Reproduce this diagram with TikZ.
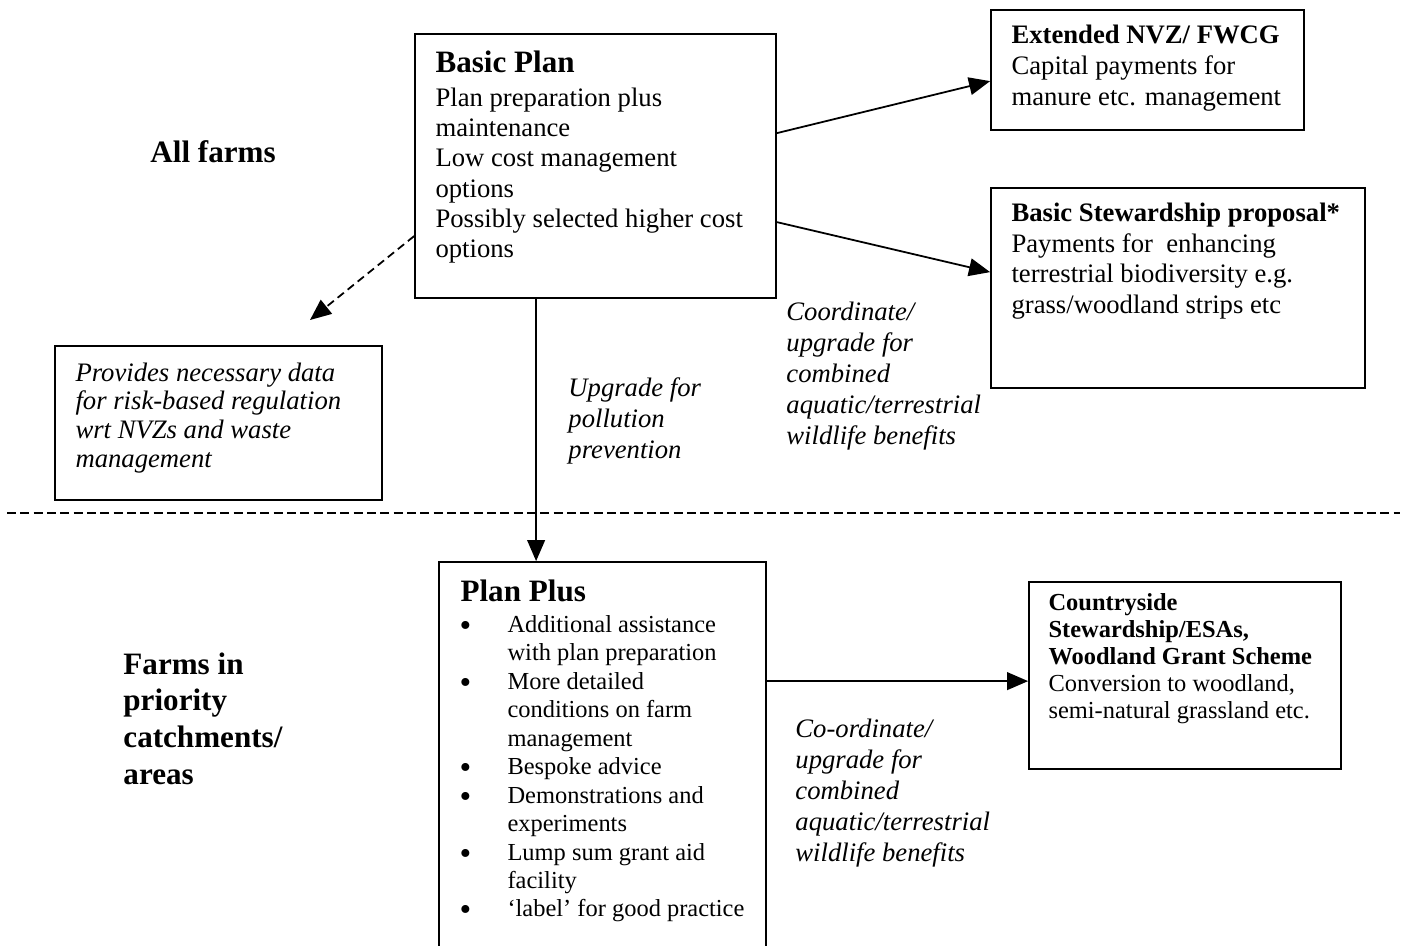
\documentclass[tikz,border=0pt]{standalone}
\usepackage{fontspec}
\setmainfont{Liberation Serif}
\usetikzlibrary{arrows.meta,calc,positioning}

\begin{document}
\begin{tikzpicture}
  [
    x=0.45pt, y=-0.45pt,
    box/.style =
      {draw, rectangle, line width=0.8pt, inner sep=0pt},
    head/.style =
      {anchor=base west, inner sep=0pt, font=\bfseries\fontsize{14}{16.6}\selectfont},
    subhead/.style =
      {anchor=base west, inner sep=0pt, font=\bfseries\fontsize{12}{13.8}\selectfont},
    body/.style =
      {anchor=north west, inner sep=0pt, align=left, font=\fontsize{12}{13.8}\selectfont},
    note/.style =
      {anchor=north west, inner sep=0pt, align=left, font=\itshape\fontsize{12}{13.95}\selectfont},
    sarrow/.style =
      {line width=0.8pt, -{Triangle[length=9.5pt, width=8pt]}},
    darrow/.style =
      {sarrow, dash pattern=on 3.6pt off 2.2pt}
  ]

\newcommand{\blt}{\raisebox{-1.8pt}{\fontsize{15}{12}\selectfont\textbullet}}

\useasboundingbox (0,0) rectangle (1407,945);

% boxes
\node[box, minimum width=361*0.45pt, minimum height=264*0.45pt] (basic) at (595.5,166) {};
\node[box, minimum width=313*0.45pt, minimum height=120*0.45pt] (ext) at (1147.5,70) {};
\node[box, minimum width=374*0.45pt, minimum height=200*0.45pt] (stew) at (1178,288) {};
\node[box, minimum width=327*0.45pt, minimum height=154*0.45pt] (prov) at (218.5,423) {};
\node[box, minimum width=327*0.45pt, minimum height=438*0.45pt] (plus) at (602.5,781) {};
\node[box, minimum width=312*0.45pt, minimum height=187*0.45pt] (ctry) at (1185,675.5) {};

% box texts
\node[head] (basicH) at ($(basic.north west)+(21,39)$) {Basic Plan};
\node[body, font=\fontsize{12}{13.65}\selectfont] (basicB) at ($(basic.north west)+(21,54)$)
  {Plan preparation plus\\maintenance\\Low cost management\\options\\Possibly selected higher cost\\options};

\node[subhead] (extH) at ($(ext.north west)+(21,34)$) {Extended NVZ/ FWCG};
\node[body, font=\fontsize{12}{13.95}\selectfont] (extB) at ($(ext.north west)+(21,46)$)
  {Capital payments for\\manure etc. management};

\node[subhead] (stewH) at ($(stew.north west)+(21,34)$) {Basic Stewardship proposal*};
\node[body, font=\fontsize{12}{13.7}\selectfont] (stewB) at ($(stew.north west)+(21,46)$)
  {Payments for~ enhancing\\terrestrial biodiversity e.g.\\grass/woodland strips etc};

\node[note, font=\itshape\fontsize{12}{12.9}\selectfont] (provB) at ($(prov.north west)+(21,17)$)
  {Provides necessary data\\for risk-based regulation\\wrt NVZs and waste\\management};

\node[head] (plusH) at ($(plus.north west)+(22,40)$) {Plan Plus};
\node[body, font=\fontsize{11}{12.8}\selectfont] (plusB) at ($(plus.north west)+(21,51)$)
  {\begin{tabular}{@{}p{21.6pt}@{}l@{}}
   \blt & Additional assistance\\
        & with plan preparation\\
   \blt & More detailed\\
        & conditions on farm\\
        & management\\
   \blt & Bespoke advice\\
   \blt & Demonstrations and\\
        & experiments\\
   \blt & Lump sum grant aid\\
        & facility\\
   \blt & `label' for good practice
   \end{tabular}};

\node[body, font=\fontsize{11}{12.1}\selectfont] (ctryB) at ($(ctry.north west)+(20,12)$)
  {\textbf{Countryside}\\\textbf{Stewardship/ESAs,}\\\textbf{Woodland Grant Scheme}\\Conversion to woodland,\\semi-natural grassland etc.};

% side labels
\node[head] (allfarms) at (150,162) {All farms};
\node[head, anchor=north west, align=left] (priority) at (123,652)
  {Farms in\\priority\\catchments/\\areas};

\node[note] (pollution) at (568,377) {Upgrade for\\pollution\\prevention};
\node[note] (coordA) at (786,302)
  {Coordinate/\\upgrade for\\combined\\aquatic/terrestrial\\wildlife benefits};
\node[note] (coordB) at (795,719)
  {Co-ordinate/\\upgrade for\\combined\\aquatic/terrestrial\\wildlife benefits};

% separator
\coordinate (sepW) at (7,513);
\coordinate (sepE) at (1400,513);
\draw[line width=0.9pt, dash pattern=on 4pt off 2pt] (sepW) -- (sepE);

% connectors
\coordinate (provtip) at (310,320);
\draw[sarrow] ($(basic.north east)+(0,100)$) -- ($(ext.north west)+(0,72)$);
\draw[sarrow] ($(basic.north east)+(0,189)$) -- ($(stew.north west)+(0,85)$);
\draw[darrow] ($(basic.north west)+(0,203)$) -- (provtip);
\draw[sarrow] ($(basic.south west)+(122,0)$) -- ($(plus.north west)+(98,0)$);
\draw[sarrow] ($(plus.north east)+(0,120)$) -- ($(ctry.north west)+(0,100)$);
\end{tikzpicture}
\end{document}
